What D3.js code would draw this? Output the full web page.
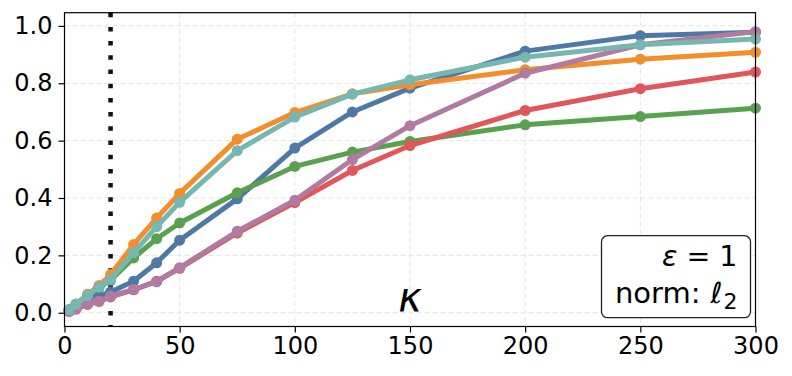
<!DOCTYPE html>
<html lang="en">
<head>
<meta charset="utf-8">
<title>kappa curves</title>
<style>
  body { margin: 0; background: #fff; }
  svg { display: block; font-family: "DejaVu Sans", sans-serif; }
  .grid line { stroke: #e3e3e3; stroke-dasharray: 5 3; stroke-width: 1; }
  .axis text { font-family: "DejaVu Sans", sans-serif; font-size: 24px; fill: #000; }
  .axis path, .axis line { stroke: #000; stroke-width: 1.2; }
</style>
</head>
<body>
<svg id="chart" width="792" height="376"></svg>
<script src="https://d3js.org/d3.v7.min.js"></script>
<script>
// x values (kappa)
var kappa = [2, 5, 10, 15, 20, 30, 40, 50, 75, 100, 125, 150, 200, 250, 300];

var blueVals   = [0.01, 0.03, 0.05, 0.06, 0.072, 0.11, 0.174, 0.253, 0.397, 0.574, 0.70, 0.783, 0.912, 0.966, 0.978];
var orangeVals = [0.01, 0.03, 0.064, 0.095, 0.133, 0.238, 0.33, 0.416, 0.605, 0.698, 0.763, 0.795, 0.847, 0.884, 0.908];
var greenVals  = [0.01, 0.03, 0.06, 0.088, 0.113, 0.191, 0.258, 0.313, 0.418, 0.51, 0.56, 0.597, 0.655, 0.684, 0.713];
var redVals    = [0.005, 0.015, 0.03, 0.04, 0.055, 0.08, 0.11, 0.155, 0.278, 0.384, 0.496, 0.583, 0.705, 0.781, 0.839];
var purpleVals = [0.005, 0.012, 0.029, 0.04, 0.058, 0.081, 0.108, 0.157, 0.284, 0.392, 0.534, 0.652, 0.835, 0.934, 0.98];
var tealVals   = [0.01, 0.03, 0.06, 0.09, 0.116, 0.209, 0.30, 0.385, 0.565, 0.682, 0.762, 0.812, 0.891, 0.934, 0.954];

var seriesColors = ["#4e79a7", "#f28e2b", "#59a14f", "#e15759", "#b07aa1", "#76b7b2"];
var seriesVals = [blueVals, orangeVals, greenVals, redVals, purpleVals, tealVals];

var xTicks = [0, 50, 100, 150, 200, 250, 300];
var yTicks = [0.0, 0.2, 0.4, 0.6, 0.8, 1.0];
var markerKappa = 20;

var svg = d3.select("#chart"),
    margin = {top: 12.7, right: 36.5, bottom: 49.5, left: 64.5},
    width = 792 - margin.left - margin.right,
    height = 376 - margin.top - margin.bottom;

var g = svg.append("g").attr("transform", "translate(" + margin.left + "," + margin.top + ")");

var x = d3.scaleLinear().domain([0, 300]).range([0, width]);
var y = d3.scaleLinear().domain([-0.048, 1.046]).range([height, 0]);

// grid
var grid = g.append("g").attr("class", "grid");
grid.selectAll(".gx").data(xTicks).enter().append("line")
    .attr("x1", function(d) { return x(d); }).attr("x2", function(d) { return x(d); })
    .attr("y1", 0).attr("y2", height);
grid.selectAll(".gy").data(yTicks).enter().append("line")
    .attr("x1", 0).attr("x2", width)
    .attr("y1", function(d) { return y(d); }).attr("y2", function(d) { return y(d); });

// dotted vertical line
g.append("line")
    .attr("x1", x(markerKappa)).attr("x2", x(markerKappa))
    .attr("y1", 0).attr("y2", height)
    .attr("stroke", "#111").attr("stroke-width", 4.5)
    .attr("stroke-dasharray", "4.5 9.7");

var line = d3.line()
    .x(function(d, i) { return x(kappa[i]); })
    .y(function(d) { return y(d); });

seriesVals.forEach(function(vals, k) {
  var s = g.append("g");
  s.append("path")
      .datum(vals)
      .attr("d", line)
      .attr("fill", "none")
      .attr("stroke", seriesColors[k])
      .attr("stroke-width", 5)
      .attr("stroke-linejoin", "round");
  s.selectAll("circle").data(vals).enter().append("circle")
      .attr("cx", function(d, i) { return x(kappa[i]); })
      .attr("cy", function(d) { return y(d); })
      .attr("r", 5.5)
      .attr("fill", seriesColors[k]);
});

// frame
g.append("rect").attr("width", width).attr("height", height)
    .attr("fill", "none").attr("stroke", "#000").attr("stroke-width", 1.2);

// axes
g.append("g").attr("class", "axis")
    .attr("transform", "translate(0," + height + ")")
    .call(d3.axisBottom(x).tickValues(xTicks).tickSize(6).tickPadding(4).tickFormat(d3.format("d")))
    .call(function(a) { a.select(".domain").remove(); });
g.append("g").attr("class", "axis")
    .call(d3.axisLeft(y).tickValues(yTicks).tickSize(6).tickPadding(6).tickFormat(d3.format(".1f")))
    .call(function(a) { a.select(".domain").remove(); });

// kappa label inside the plot
g.append("text")
    .attr("x", x(150)).attr("y", 298.5)
    .attr("text-anchor", "middle")
    .style("font-size", "40px").style("font-style", "italic")
    .text("κ");

// annotation box
var box = g.append("g");
box.append("rect")
    .attr("x", 537).attr("y", 223).attr("width", 149).attr("height", 82)
    .attr("rx", 6).attr("fill", "#fff").attr("stroke", "#222").attr("stroke-width", 1.3);
var t1 = box.append("text").attr("x", 673).attr("y", 253.5).attr("text-anchor", "end").style("font-size", "28.5px");
t1.append("tspan").style("font-style", "italic").text("ε");
t1.append("tspan").text(" = 1");
var t2 = box.append("text").attr("x", 673).attr("y", 290.5).attr("text-anchor", "end").style("font-size", "29px");
t2.append("tspan").text("norm:");
t2.append("tspan").attr("dx", 10).style("font-style", "italic").text("ℓ");
t2.append("tspan").attr("dy", 6).attr("dx", 1).style("font-size", "22px").text("2");
</script>
</body>
</html>
